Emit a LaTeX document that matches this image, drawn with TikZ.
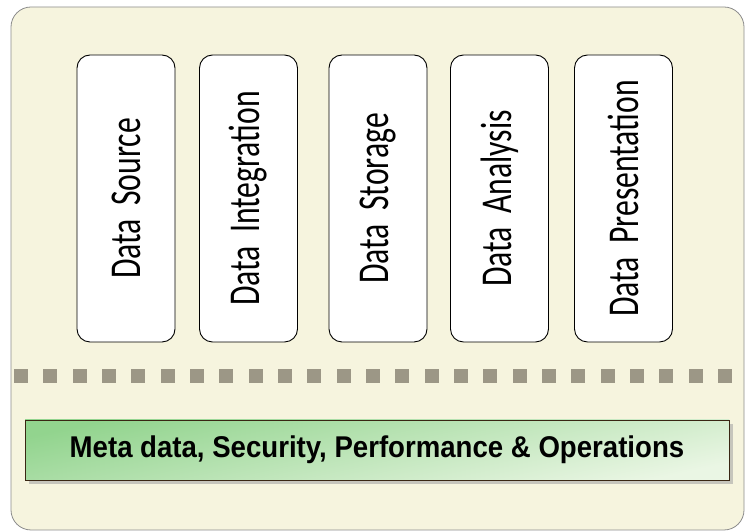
\documentclass[tikz,border=0pt]{standalone}
\usepackage{fontspec}
\newfontfamily\boxfont[FakeStretch=0.72]{Carlito}
\newfontfamily\barfont[FakeStretch=0.92]{Liberation Sans Bold}
\usetikzlibrary{shadows}
\definecolor{panelbg}{HTML}{F6F4DE}
\definecolor{dotgray}{HTML}{9C9786}
\definecolor{bargreen}{HTML}{92D48E}
\definecolor{barpale}{HTML}{EAF6E4}
\tikzset{
  stagebox/.style={draw=black, line width=0.9pt, fill=white, rounded corners=13pt,
    minimum width=287pt, minimum height=98pt, inner sep=0pt, rotate=90,
    font=\boxfont\fontsize{44}{48}\selectfont},
  sepdot/.style={fill=dotgray, minimum size=14pt, inner sep=0pt},
  basebar/.style={draw=black!70!brown, line width=0.8pt, minimum width=704pt, minimum height=60pt,
    inner sep=0pt, top color=bargreen, bottom color=barpale, shading angle=12,
    drop shadow={shadow xshift=4pt, shadow yshift=-4pt, fill=black!35, opacity=0.6},
    font=\barfont\fontsize{30}{32}\selectfont}
}
\begin{document}
\begin{tikzpicture}[x=1pt,y=1pt]
  \useasboundingbox (0,0) rectangle (745,532);
  \fill[white] (0,0) rectangle (745,532);
  % outer panel
  \filldraw[fill=panelbg, draw=black!45, line width=0.8pt, rounded corners=20pt]
    (11,2) rectangle (744,525);
  % five processing stages
  \node[stagebox] (src) at (126,333.5) {Data\hspace{0.3em}Source};
  \node[stagebox] (int) at (248.5,333.5) {Data\hspace{0.3em}Integration};
  \node[stagebox] (sto) at (378,333.5) {Data\hspace{0.3em}Storage};
  \node[stagebox] (ana) at (499.5,333.5) {Data\hspace{0.3em}Analysis};
  \node[stagebox] (pre) at (623.5,333.5) {Data\hspace{0.3em}Presentation};
  % dotted separator
  \foreach \k in {0,...,24}
    \node[sepdot] (dot\k) at ({21+29.33*\k},155.5) {};
  % cross-cutting concerns bar
  \node[basebar] (bar) at (377,82) {Meta data, Security, Performance \& Operations};
\end{tikzpicture}
\end{document}
